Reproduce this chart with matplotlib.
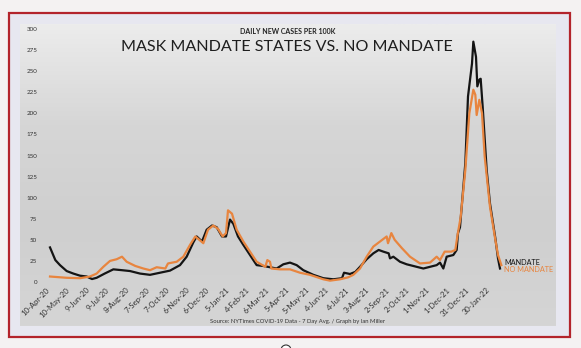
import numpy as np
import pandas as pd
import matplotlib
matplotlib.use("Agg")
import matplotlib.pyplot as plt
from matplotlib.patches import Rectangle, Circle
from matplotlib.colors import LinearSegmentedColormap

# chart data
start = pd.Timestamp("2020-04-10")

tick_labels = ["10-Apr-20", "10-May-20", "9-Jun-20", "9-Jul-20", "8-Aug-20",
               "7-Sep-20", "7-Oct-20", "6-Nov-20", "6-Dec-20", "5-Jan-21",
               "4-Feb-21", "6-Mar-21", "5-Apr-21", "5-May-21", "4-Jun-21",
               "4-Jul-21", "3-Aug-21", "2-Sep-21", "2-Oct-21", "1-Nov-21",
               "1-Dec-21", "31-Dec-21", "30-Jan-22"]
y_ticks = [0, 25, 50, 75, 100, 125, 150, 175, 200, 225, 250, 275, 300]

# days after 10-Apr-20, cases per 100k
mandate_days = [6, 14, 21, 31, 41, 51, 61, 69, 76, 88, 101, 114, 126, 141, 156,
                171, 186, 201, 211, 221, 226, 234, 241, 249, 256, 264, 270, 276,
                281, 288, 296, 306, 316, 326, 336, 346, 356, 366, 376, 386, 401,
                416, 431, 444, 447, 453, 456, 464, 471, 481, 491, 499, 506, 514,
                516, 521, 531, 541, 556, 566, 576, 586, 591, 596, 601, 611, 616,
                618, 621, 629, 633, 639, 641, 645, 647, 650, 652, 655, 661, 666,
                674, 678, 681]
mandate_cases = [41, 26, 20, 13, 10, 7.5, 6.5, 3.5, 5, 10, 15, 14, 13, 10, 8.5,
                 11, 13.5, 20, 30, 47, 54, 48, 62, 67, 65, 54, 54, 74,
                 69, 54, 44, 32, 20, 19, 17.5, 16, 21, 23, 20, 14, 8.5,
                 4.5, 3.2, 4.5, 11, 10, 9.5, 12, 18, 27, 34, 38, 36, 34,
                 28, 30, 24, 21, 18, 16, 18, 20, 23, 16, 30, 32, 38,
                 58, 65, 141, 220, 259, 285, 267, 232, 240, 241, 208, 133, 93,
                 52, 28, 16]

no_mandate_days = [6, 31, 51, 66, 76, 86, 96, 106, 114, 121, 134, 146, 156, 166,
                   179, 183, 196, 206, 216, 224, 236, 243, 251, 258, 265, 270,
                   273, 279, 286, 296, 306, 316, 329, 332, 336, 338, 351, 366,
                   381, 396, 416, 426, 441, 453, 461, 471, 481, 491, 501, 511,
                   513, 518, 523, 534, 546, 561, 576, 586, 591, 598, 608, 614,
                   617, 622, 629, 635, 641, 644, 646, 650, 654, 658, 666, 674,
                   678, 683]
no_mandate_cases = [6.5, 5, 4.5, 6.5, 10, 18, 25, 27, 30, 24, 19, 16, 14, 17.5,
                    16, 22, 24, 30, 44, 54, 46, 62, 67, 63, 54, 58,
                    85, 81, 62, 48, 36, 24, 18, 26, 24, 16, 15, 15,
                    11, 8.5, 3.2, 1.6, 3.2, 5.5, 8.5, 16, 30, 42, 48, 54,
                    46, 58, 50, 40, 30, 22, 23, 30, 26, 36, 36, 38,
                    54, 77, 133, 200, 228, 222, 198, 216, 200, 149, 89, 50,
                    32, 20]

mandate_x = start + pd.to_timedelta(mandate_days, unit="D")
no_mandate_x = start + pd.to_timedelta(no_mandate_days, unit="D")
tick_x = pd.to_datetime(tick_labels, format="%d-%b-%y")

FONT = ["Lato", "DejaVu Sans"]
BLACK = "#141414"
ORANGE = "#e8853f"

fig = plt.figure(figsize=(5.81, 3.48), dpi=100)

# backdrop: page, red frame, grey gradient panel
bg = fig.add_axes([0, 0, 1, 1])
bg.set_xlim(0, 581)
bg.set_ylim(348, 0)
bg.axis("off")
bg.add_patch(Rectangle((0, 0), 581, 348, color="#f4f2f2"))
bg.add_patch(Rectangle((9, 13), 561, 324, fc="#e7e7f0", ec="#b3242b", lw=1.6))
grad = np.linspace(0, 1, 200).reshape(-1, 1)
cmap = LinearSegmentedColormap.from_list("panel", ["#ececec", "#d6d6d6", "#cfcfcf", "#d5d5d5"])
bg.imshow(grad, extent=(20, 556, 326, 24), cmap=cmap, aspect="auto", zorder=1)
bg.add_patch(Circle((286, 350), 5, fc="white", ec="#333333", lw=0.8))

ax = fig.add_axes([40 / 581, (348 - 282) / 348, 480 / 581, 253 / 348])
ax.patch.set_alpha(0)
for s in ax.spines.values():
    s.set_visible(False)

ax.plot(mandate_x, mandate_cases, color=BLACK, lw=1.6, solid_joinstyle="round")
ax.plot(no_mandate_x, no_mandate_cases, color=ORANGE, lw=1.6, solid_joinstyle="round")

ax.set_xlim(start - pd.Timedelta(days=9), start + pd.Timedelta(days=711))
ax.set_ylim(0, 300)
ax.set_xticks(tick_x)
ax.set_xticklabels(tick_labels, rotation=45, ha="right", rotation_mode="anchor",
                   fontsize=5.6, color="#333333", family=FONT)
ax.set_yticks(y_ticks)
ax.set_yticklabels([str(v) for v in y_ticks], fontsize=4.5, color="#333333", family=FONT)
ax.tick_params(length=0)
ax.tick_params(axis="x", pad=3)
ax.tick_params(axis="y", pad=2)

ax.annotate("MANDATE", xy=(mandate_x[-1], mandate_cases[-1]), xytext=(3.5, 4),
            textcoords="offset points", fontsize=5.2, color=BLACK, family=FONT,
            va="center", ha="left")
ax.annotate("NO MANDATE", xy=(no_mandate_x[-1], no_mandate_cases[-1]), xytext=(2, -3.5),
            textcoords="offset points", fontsize=5.2, color=ORANGE, family=FONT,
            va="center", ha="left")

fig.text(288 / 581, 1 - 32 / 348, "DAILY NEW CASES PER 100K", ha="center", va="center",
         fontsize=5, color="#222222", family=FONT, weight="bold")
fig.text(287 / 581, 1 - 47 / 348, "MASK MANDATE STATES VS. NO MANDATE", ha="center",
         va="center", fontsize=11.6, color="#1e1e1e", family=FONT)
fig.text(298 / 581, 1 - 322 / 348,
         "Source: NYTimes COVID-19 Data - 7 Day Avg. / Graph by Ian Miller",
         ha="center", va="center", fontsize=4.2, color="#333333", family=FONT)

fig.savefig("out.png", dpi=100)
